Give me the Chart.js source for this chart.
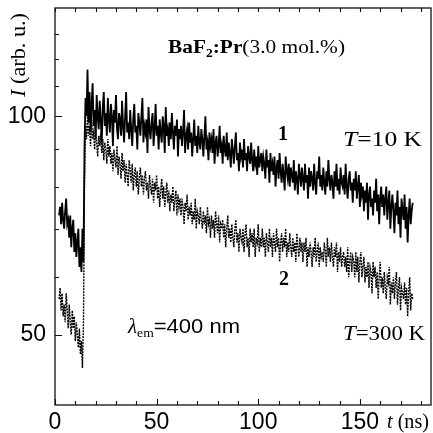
<!DOCTYPE html>
<html><head><meta charset="utf-8">
<script src="https://cdn.jsdelivr.net/npm/chart.js@4.4.0/dist/chart.umd.min.js"></script>
<style>html,body{margin:0;padding:0;background:#fff}#wrap{width:433px;height:433px}</style>
</head><body><div id="wrap"><canvas id="c" width="433" height="433"></canvas></div>
<script>
// time axis sampling of the decay curves (ns)
const tStart = 2;
const tStep = 0.5;
// curve 1, T = 10 K (solid), one row = 5 ns
const series1 = [
 73,75,71,76,72,70,74,77,71,72,
 68,73,66,70,72,65,69,64,67,70,
 62,66,61,70,63,90,106,100,116,98,
 108,95,104,111,97,102,93,107,100,96,
 105,99,92,103,108,97,101,94,106,99,
 95,104,100,91,102,98,107,96,93,101,
 99,94,105,97,92,100,108,95,98,93,
 102,96,91,99,104,95,97,90,101,98,
 94,100,106,92,97,95,99,89,103,96,
 93,98,101,91,96,104,94,97,90,99,
 95,92,100,97,89,103,94,96,91,98,
 93,101,95,90,97,94,99,88,96,93,
 97,91,95,102,89,94,96,90,98,92,
 95,88,93,99,91,94,89,97,92,90,
 96,93,88,94,100,90,92,87,95,91,
 93,89,96,86,92,94,88,91,97,89,
 91,86,94,90,88,95,87,92,89,85,
 93,90,86,91,95,87,89,84,92,88,
 90,85,93,87,89,84,91,88,86,92,
 87,84,90,86,88,83,91,85,87,89,
 84,88,86,82,90,85,87,81,89,84,
 86,83,88,80,85,87,82,89,84,81,
 86,83,79,88,84,82,86,80,85,83,
 81,87,79,84,82,78,86,83,80,85,
 82,79,86,81,83,77,85,80,84,82,
 79,86,81,78,84,82,88,80,83,79,
 85,81,78,84,80,87,82,79,83,81,
 77,84,80,86,79,82,78,85,81,80,
 83,78,86,80,77,82,84,79,81,76,
 82,79,84,77,80,83,75,81,78,80,
 74,79,76,81,72,78,80,75,77,73,
 79,76,82,74,78,71,77,80,75,78,
 73,77,80,72,76,79,70,75,78,74,
 69,76,73,79,71,75,68,77,74,72,
 78,70,75,67,73,77,71,74,76
];
// curve 2, T = 300 K (dotted), one row = 5 ns
const series2 = [
 56,58,54,57,53,55,52,57,54,51,
 55,52,50,54,51,53,49,52,50,48,
 51,47,49,45,52,80,97,93,100,94,
 97,91,99,93,95,90,96,92,88,94,
 91,95,89,93,87,92,90,86,93,88,
 91,86,89,84,90,87,85,91,83,88,
 86,82,89,84,87,81,86,83,80,87,
 84,81,86,79,83,85,80,84,78,82,
 85,80,83,78,82,84,79,81,77,83,
 80,78,82,76,81,79,83,77,80,75,
 79,82,77,80,75,78,81,76,79,74,
 78,76,80,74,77,79,73,78,75,77,
 73,77,75,71,76,74,78,72,75,73,
 76,71,74,72,77,70,74,73,71,75,
 72,70,74,71,73,69,75,71,72,68,
 73,70,72,68,74,71,69,73,67,71,
 70,72,68,71,66,70,73,68,70,67,
 71,68,66,70,72,67,69,65,70,68,
 67,70,65,69,71,66,68,64,70,67,
 69,66,70,64,68,67,71,65,68,66,
 70,66,68,64,69,67,65,70,66,68,
 64,69,67,65,70,66,68,63,67,69,
 65,68,66,70,64,67,65,69,66,64,
 68,65,67,63,69,66,64,68,65,67,
 63,67,65,68,62,66,64,67,65,62,
 66,64,68,63,65,67,62,66,64,65,
 63,67,65,62,68,64,66,63,67,64,
 62,66,64,67,61,65,63,66,62,64,
 65,62,64,61,66,60,63,65,61,64,
 63,60,65,61,64,59,63,65,60,62,
 64,59,62,60,63,58,62,61,57,63,
 60,62,58,61,56,60,63,58,60,57,
 61,58,56,60,59,62,55,59,57,60,
 56,59,61,55,58,60,54,58,57,56,
 59,55,58,53,57,60,54,57,56
];
const xTicks = [0,10,20,30,40,50,60,70,80,90,100,110,120,130,140,150,160,170,180];
const xLabelled = [0,50,100,150];
const yTicks = [50,60,70,80,90,100,110,120,130];
const yLabelled = [50,100];

const SERIF = '"Liberation Serif", "Times New Roman", serif';
const SANS = '"Liberation Sans", Arial, sans-serif';

// draw a sequence of differently styled text pieces; optional target width stretches horizontally
function drawRuns(ctx, x, y, runs, align, target) {
  let w = 0;
  runs.forEach(r => { ctx.font = r.f; w += ctx.measureText(r.t).width; });
  const sx = target ? target / w : 1;
  ctx.save();
  ctx.translate(align === 'center' ? x - w * sx / 2 : x, y);
  ctx.scale(sx, 1);
  let cx = 0;
  runs.forEach(r => {
    ctx.font = r.f;
    ctx.fillText(r.t, cx, r.dy || 0);
    cx += ctx.measureText(r.t).width;
  });
  ctx.restore();
}

const framePlugin = {
  id: 'frame',
  afterDraw(chart) {
    const ctx = chart.ctx, a = chart.chartArea;
    const xs = chart.scales.x, ys = chart.scales.y;
    ctx.save();
    ctx.strokeStyle = '#111';
    ctx.lineWidth = 1.3;
    ctx.strokeRect(a.left, a.top, a.right - a.left, a.bottom - a.top);
    ctx.lineWidth = 1.1;
    ctx.beginPath();
    xTicks.forEach(v => {
      const px = Math.round(xs.getPixelForValue(v)) + 0.5;
      const len = v % 50 === 0 ? 6 : 4;
      ctx.moveTo(px, a.bottom); ctx.lineTo(px, a.bottom - len);
      ctx.moveTo(px, a.top); ctx.lineTo(px, a.top + 4);
    });
    yTicks.forEach(v => {
      const py = Math.round(ys.getPixelForValue(v)) + 0.5;
      const len = yLabelled.includes(v) ? 7 : 4;
      ctx.moveTo(a.left, py); ctx.lineTo(a.left + len, py);
    });
    ctx.stroke();

    ctx.fillStyle = '#000';
    ctx.textBaseline = 'alphabetic';
    ctx.textAlign = 'left';
    drawRuns(ctx, 168, 53, [
      {t: 'BaF', f: 'bold 19px ' + SERIF},
      {t: '2', f: 'bold 12px ' + SERIF, dy: 4},
      {t: ':Pr', f: 'bold 19px ' + SERIF},
      {t: '(3.0 mol.%)', f: '19px ' + SERIF}
    ], 'left', 177);
    drawRuns(ctx, 278, 140, [{t: '1', f: 'bold 20px ' + SERIF}]);
    drawRuns(ctx, 279, 285, [{t: '2', f: 'bold 20px ' + SERIF}]);
    drawRuns(ctx, 343, 146, [
      {t: 'T', f: 'italic 20px ' + SERIF},
      {t: '=10 K', f: '20px ' + SERIF}
    ], 'left', 79);
    drawRuns(ctx, 343, 340, [
      {t: 'T', f: 'italic 20px ' + SERIF},
      {t: '=300 K', f: '20px ' + SERIF}
    ], 'left', 82);
    drawRuns(ctx, 128, 333, [
      {t: 'λ', f: 'italic 20px ' + SERIF},
      {t: 'em', f: '13px ' + SERIF, dy: 4},
      {t: '=400 nm', f: '21px ' + SANS}
    ], 'left', 112);
    drawRuns(ctx, 387, 428, [
      {t: 't', f: 'italic 20px ' + SERIF},
      {t: ' (ns)', f: '20px ' + SERIF}
    ], 'left', 42);
    ctx.translate(25, 55);
    ctx.rotate(-Math.PI / 2);
    drawRuns(ctx, 0, 0, [
      {t: 'I', f: 'italic 20px ' + SERIF},
      {t: ' (arb. u.)', f: '20px ' + SERIF}
    ], 'center', 84);
    ctx.restore();
  }
};

const toPts = arr => arr.map((v, i) => ({x: tStart + i * tStep, y: v}));

new Chart(document.getElementById('c'), {
  type: 'line',
  data: {
    datasets: [
      {label: '1', data: toPts(series1), borderColor: '#000', borderWidth: 1.8,
       pointRadius: 0, tension: 0, fill: false, order: 1},
      {label: '2', data: toPts(series2), borderColor: '#000', borderWidth: 1.4,
       borderDash: [2, 1], pointRadius: 0, tension: 0, fill: false, order: 2}
    ]
  },
  options: {
    responsive: false,
    animation: false,
    devicePixelRatio: 1,
    layout: {padding: {top: 8, right: 2, left: 0, bottom: 0}},
    plugins: {legend: {display: false}, tooltip: {enabled: false}},
    scales: {
      x: {
        type: 'linear', min: 0, max: 185,
        afterBuildTicks: s => { s.ticks = xTicks.map(v => ({value: v})); },
        afterFit: s => { s.height = 28; s.paddingLeft = 0; s.paddingRight = 0; },
        ticks: {
          autoSkip: false, maxRotation: 0, padding: 4, color: '#000',
          font: {family: SANS, size: 23},
          callback: v => xLabelled.includes(v) ? String(v) : ''
        },
        grid: {display: false, drawTicks: false},
        border: {display: false}
      },
      y: {
        type: 'logarithmic', min: 40, max: 141,
        afterBuildTicks: s => { s.ticks = yTicks.map(v => ({value: v})); },
        afterFit: s => { s.width = 55; s.paddingTop = 0; s.paddingBottom = 0; },
        ticks: {
          autoSkip: false, padding: 9, color: '#000',
          font: {family: SANS, size: 23},
          callback: v => yLabelled.includes(v) ? String(v) : ''
        },
        grid: {display: false, drawTicks: false},
        border: {display: false}
      }
    }
  },
  plugins: [framePlugin]
});
</script>
</body></html>
